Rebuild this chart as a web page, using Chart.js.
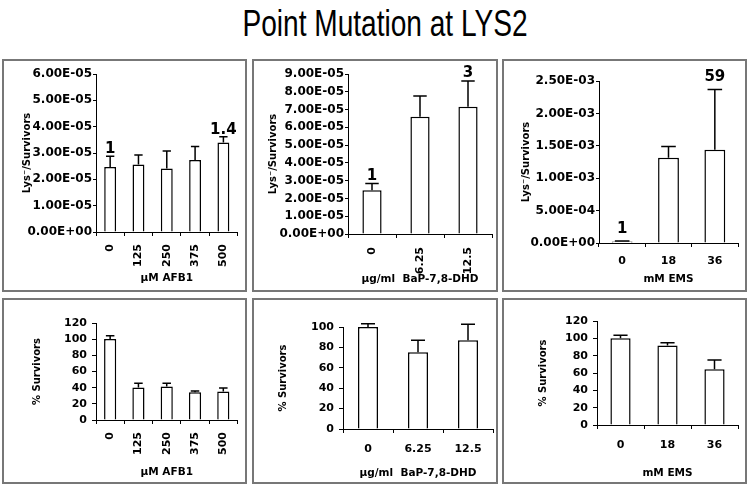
<!DOCTYPE html>
<html>
<head>
<meta charset="utf-8">
<title>Point Mutation at LYS2</title>
<script src="https://cdn.jsdelivr.net/npm/chart.js@4.4.1/dist/chart.umd.min.js"></script>
<style>
  body { margin: 0; background: #fff; }
  #page { position: relative; width: 750px; height: 489px; overflow: hidden; }
  #title {
    position: absolute; left: 0; top: 3px; width: 770px;
    text-align: center; font: 36px "Liberation Sans", Arial, sans-serif;
    color: #000; transform: scaleX(0.78); transform-origin: center;
  }
  .box { position: absolute; border: 2px solid #777; box-sizing: border-box; }
  .box canvas { display: block; }
</style>
</head>
<body>
<div id="page">
  <div id="title">Point Mutation at LYS2</div>
</div>

<script>
// ---- data ----
const afbDoses = ["0", "125", "250", "375", "500"];
const afbLys = [2.47e-5, 2.56e-5, 2.41e-5, 2.73e-5, 3.40e-5];
const afbLysErr = [0.41e-5, 0.36e-5, 0.67e-5, 0.52e-5, 0.22e-5];
const afbLysNotes = ["1", "", "", "", "1.4"];
const afbSurv = [100.2, 40.2, 41.4, 34.4, 35.2];
const afbSurvErr = [4.1, 5.3, 4.1, 1.6, 4.5];

const bapDoses = ["0", "6.25", "12.5"];
const bapLys = [2.46e-5, 6.60e-5, 7.16e-5];
const bapLysErr = [0.38e-5, 1.16e-5, 1.45e-5];
const bapLysNotes = ["1", "", "3"];
const bapSurv = [100, 75.2, 86.9];
const bapSurvErr = [3.3, 11.7, 15.7];

const emsDoses = ["0", "18", "36"];
const emsLys = [2.46e-5, 1.317e-3, 1.44e-3];
const emsLysErr = [0.6e-5, 0.173e-3, 0.93e-3];
const emsLysNotes = ["1", "", "59"];
const emsSurv = [100.2, 91.8, 64.2];
const emsSurvErr = [3.4, 3.0, 10.8];

// y axis ranges [max, step]
const afbLysAxis = [6e-5, 1e-5];
const bapLysAxis = [9e-5, 1e-5];
const emsLysAxis = [2.5e-3, 5e-4];
const survAxis = [120, 20];
const bapSurvAxis = [100, 20];

const lysTitle = "Lys\u207B/Survivors";
const survTitle = "% Survivors";

const FONT = "DejaVu Sans";

// Excel style 0.00E+00
function sci(v) {
  if (Math.abs(v) < 1e-12) return "0.00E+00";
  const parts = v.toExponential(2).split("e");
  let e = parseInt(parts[1], 10);
  const sign = e < 0 ? "-" : "+";
  e = Math.abs(e);
  return parts[0] + "E" + sign + (e < 10 ? "0" + e : e);
}

function drawPanel(o) {
  const b = 2;
  const wrap = document.createElement("div");
  wrap.className = "box";
  wrap.style.left = o.box[0] + "px";
  wrap.style.top = o.box[1] + "px";
  wrap.style.width = (o.box[2] - o.box[0]) + "px";
  wrap.style.height = (o.box[3] - o.box[1]) + "px";
  document.getElementById("page").appendChild(wrap);

  const W = o.box[2] - o.box[0] - 2 * b;
  const H = o.box[3] - o.box[1] - 2 * b;
  const ox = o.box[0] + b, oy = o.box[1] + b;
  const cv = document.createElement("canvas");
  cv.width = W; cv.height = H;
  wrap.appendChild(cv);

  const left = o.plot[0] - ox, top = o.plot[1] - oy;
  const right = o.plot[2] - ox, bottom = o.plot[3] - oy;

  const titleSize = 10.5;
  const lh = titleSize * 1.2;

  // upper error bars and the fold labels
  const errorBars = {
    id: "errorBars",
    afterDatasetsDraw(chart) {
      const ctx = chart.ctx, ys = chart.scales.y;
      const meta = chart.getDatasetMeta(0);
      ctx.save();
      ctx.strokeStyle = "#000";
      ctx.lineWidth = 1.5;
      meta.data.forEach((bar, i) => {
        const yErr = ys.getPixelForValue(o.values[i] + o.errs[i]);
        const cap = bar.width * 0.35;
        ctx.beginPath();
        ctx.moveTo(bar.x, bar.y);
        ctx.lineTo(bar.x, yErr);
        ctx.moveTo(bar.x - cap, yErr);
        ctx.lineTo(bar.x + cap, yErr);
        ctx.stroke();
        if (o.notes && o.notes[i]) {
          ctx.fillStyle = "#000";
          ctx.font = "bold 15px '" + FONT + "'";
          ctx.textAlign = "center";
          ctx.textBaseline = "alphabetic";
          ctx.fillText(o.notes[i], bar.x, yErr - o.noteGap);
        }
      });
      ctx.restore();
    }
  };

  new Chart(cv, {
    type: "bar",
    data: {
      labels: o.labels,
      datasets: [{
        data: o.values,
        backgroundColor: "#fff",
        borderColor: "#000",
        borderWidth: 1.5,
        barPercentage: o.barPct,
        categoryPercentage: 1
      }]
    },
    options: {
      responsive: false,
      animation: false,
      events: [],
      layout: { padding: { left: 0, right: W - right, top: top, bottom: 0 } },
      plugins: { legend: { display: false }, tooltip: { enabled: false } },
      scales: {
        x: {
          grid: { drawOnChartArea: false, tickLength: 4, color: "#000", offset: true },
          border: { color: "#000", width: 1 },
          ticks: {
            color: "#000",
            font: { family: FONT, size: 11, weight: "bold" },
            minRotation: o.rotate ? 90 : 0,
            maxRotation: o.rotate ? 90 : 0,
            autoSkip: false,
            padding: o.xPad
          },
          title: {
            display: true, text: o.xTitle, color: "#000",
            font: { family: FONT, size: titleSize, weight: "bold" },
            padding: { top: 0, bottom: (o.box[3] - b - o.xTitleY) - lh / 2 }
          },
          afterFit(s) { s.height = H - bottom; }
        },
        y: {
          min: 0,
          max: o.axis[0],
          grid: { drawOnChartArea: false, tickLength: o.yTick, color: "#000" },
          border: { color: "#000", width: 1 },
          ticks: {
            stepSize: o.axis[1],
            autoSkip: false,
            color: "#000",
            font: { family: FONT, size: o.yFont, weight: "bold" },
            padding: o.yPad,
            callback: o.sci ? (v) => sci(v) : (v) => String(Math.round(v))
          },
          title: {
            display: true, text: o.yTitle, color: "#000",
            font: { family: FONT, size: 10, weight: "bold" },
            padding: { top: (o.yTitleX - ox) - 6, bottom: 0 }
          },
          afterFit(s) { s.width = left; }
        }
      }
    },
    plugins: [errorBars]
  });
}

// ---- layout of the six boxes ----
drawPanel({ box: [2, 59, 247, 292], plot: [96, 74, 241, 232], labels: afbDoses, values: afbLys, errs: afbLysErr,
  notes: afbLysNotes, noteGap: 3, axis: afbLysAxis, sci: true, rotate: true, barPct: 0.42, xPad: 8, yTick: 3, yPad: 1, yFont: 12,
  xTitle: "\u00B5M AFB1", yTitle: lysTitle, xTitleY: 278, yTitleX: 27 });
drawPanel({ box: [252, 59, 498, 292], plot: [348, 74, 492, 234], labels: bapDoses, values: bapLys, errs: bapLysErr,
  notes: bapLysNotes, noteGap: 4, axis: bapLysAxis, sci: true, rotate: true, barPct: 0.4, xPad: 9, yTick: 3, yPad: 1, yFont: 12,
  xTitle: "\u00B5g/ml  BaP-7,8-DHD", yTitle: lysTitle, xTitleY: 279, yTitleX: 273 });
drawPanel({ box: [502, 59, 747, 292], plot: [599, 81, 738, 243], labels: emsDoses, values: emsLys, errs: emsLysErr,
  notes: emsLysNotes, noteGap: 8, axis: emsLysAxis, sci: true, rotate: false, barPct: 0.45, xPad: 8, yTick: 3, yPad: 1, yFont: 12,
  xTitle: "mM EMS", yTitle: lysTitle, xTitleY: 279, yTitleX: 526 });

drawPanel({ box: [2, 298, 247, 484], plot: [96, 323, 240, 420], labels: afbDoses, values: afbSurv, errs: afbSurvErr,
  notes: null, noteGap: 0, axis: survAxis, sci: false, rotate: true, barPct: 0.43, xPad: 8, yTick: 4, yPad: 5, yFont: 11,
  xTitle: "\u00B5M AFB1", yTitle: survTitle, xTitleY: 472, yTitleX: 37 });
drawPanel({ box: [252, 298, 498, 484], plot: [343, 327, 493, 429], labels: bapDoses, values: bapSurv, errs: bapSurvErr,
  notes: null, noteGap: 0, axis: bapSurvAxis, sci: false, rotate: false, barPct: 0.4, xPad: 10, yTick: 4, yPad: 5, yFont: 11,
  xTitle: "\u00B5g/ml  BaP-7,8-DHD", yTitle: survTitle, xTitleY: 473, yTitleX: 283 });
drawPanel({ box: [502, 298, 747, 484], plot: [597, 321, 738, 425], labels: emsDoses, values: emsSurv, errs: emsSurvErr,
  notes: null, noteGap: 0, axis: survAxis, sci: false, rotate: false, barPct: 0.43, xPad: 10, yTick: 4, yPad: 5, yFont: 11,
  xTitle: "mM EMS", yTitle: survTitle, xTitleY: 473, yTitleX: 543 });
</script>
</body>
</html>
